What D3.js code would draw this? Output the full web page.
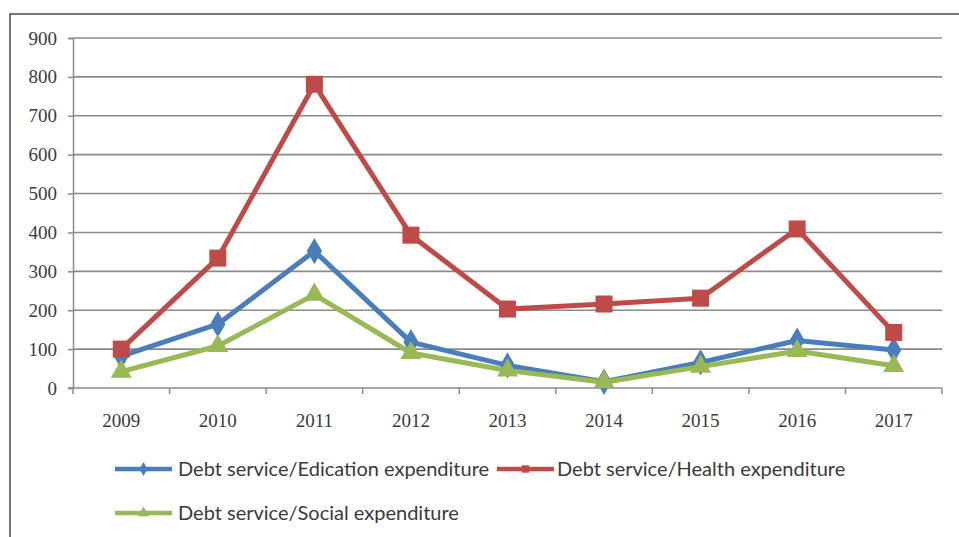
<!DOCTYPE html>
<html>
<head>
<meta charset="utf-8">
<script src="https://cdn.jsdelivr.net/npm/d3@7"></script>
<style>
  html, body { margin: 0; padding: 0; background: #fff; }
  svg { display: block; }
</style>
</head>
<body>
<svg id="chart" width="959" height="537"></svg>
<script>
// Years on the category axis
const years = ["2009", "2010", "2011", "2012", "2013", "2014", "2015", "2016", "2017"];
// Ratios of debt service to each expenditure line
const educationRatio = [82, 164, 352, 118, 58, 16, 66, 122, 98];
const healthRatio = [100, 334, 781, 393, 203, 216, 231, 409, 143];
const socialRatio = [42, 108, 240, 90, 45, 15, 55, 95, 57];
const yTicks = [0, 100, 200, 300, 400, 500, 600, 700, 800, 900];
const seriesNames = [
  "Debt service/Edication expenditure",
  "Debt service/Health expenditure",
  "Debt service/Social expenditure"
];

const series = [
  { name: seriesNames[0], values: educationRatio, color: "#4a7ebb", marker: d3.symbolDiamond, size: 200 },
  { name: seriesNames[1], values: healthRatio, color: "#be4b48", marker: d3.symbolSquare, size: 290 },
  { name: seriesNames[2], values: socialRatio, color: "#98b954", marker: d3.symbolTriangle, size: 190 }
];

const svg = d3.select("#chart");

// Outer frame of the figure
svg.append("rect")
  .attr("x", 10).attr("y", 14)
  .attr("width", 960).attr("height", 540)
  .attr("fill", "none").attr("stroke", "#4a4a4a").attr("stroke-width", 1.5);

const plot = { left: 73, right: 942, top: 38, bottom: 388 };

const x = d3.scaleBand().domain(years).range([plot.left, plot.right]);
const y = d3.scaleLinear().domain([0, 900]).range([plot.bottom, plot.top]);

const axisFont = "'Liberation Serif', 'DejaVu Serif', serif";

// Value axis
const yAxis = svg.append("g")
  .attr("transform", `translate(${plot.left},0)`)
  .call(d3.axisLeft(y).tickValues(yTicks).tickSize(5).tickPadding(11));
yAxis.select(".domain").attr("stroke", "#8a8a8a").attr("stroke-width", 1.5);
yAxis.selectAll(".tick line").attr("stroke", "#8a8a8a").attr("stroke-width", 1.5);
yAxis.selectAll(".tick text")
  .attr("font-family", axisFont)
  .attr("font-size", 19).attr("fill", "#3a3a3a");

// Horizontal gridlines
svg.append("g").selectAll("line")
  .data(yTicks.filter(t => t > 0))
  .join("line")
  .attr("x1", plot.left).attr("x2", plot.right)
  .attr("y1", d => y(d)).attr("y2", d => y(d))
  .attr("stroke", "#8a8a8a").attr("stroke-width", 1.6);

// Category axis: ticks between the years
const xAxisG = svg.append("g").attr("transform", `translate(0,${plot.bottom})`);
xAxisG.append("line")
  .attr("x1", plot.left - 5).attr("x2", plot.right)
  .attr("stroke", "#8a8a8a").attr("stroke-width", 1.6);
const bounds = years.map(d => x(d)).concat([x(years[years.length - 1]) + x.bandwidth()]);
xAxisG.selectAll("line.tk")
  .data(bounds)
  .join("line").attr("class", "tk")
  .attr("x1", d => d).attr("x2", d => d)
  .attr("y1", 0).attr("y2", 6)
  .attr("stroke", "#8a8a8a").attr("stroke-width", 1.5);
xAxisG.selectAll("text")
  .data(years)
  .join("text")
  .attr("x", d => x(d) + x.bandwidth() / 2)
  .attr("y", 39)
  .attr("text-anchor", "middle")
  .attr("font-family", axisFont)
  .attr("font-size", 19).attr("fill", "#3a3a3a")
  .text(d => d);

const cx = (d, i) => x(years[i]) + x.bandwidth() / 2;
const line = d3.line().x((d, i) => cx(d, i)).y(d => y(d));

// Lines and markers for each series
series.forEach(s => {
  const g = svg.append("g");
  g.append("path")
    .datum(s.values)
    .attr("d", line)
    .attr("fill", "none")
    .attr("stroke", s.color)
    .attr("stroke-width", 5)
    .attr("stroke-linejoin", "round");
  g.selectAll("path.mk")
    .data(s.values)
    .join("path").attr("class", "mk")
    .attr("transform", (d, i) => `translate(${cx(d, i)},${y(d)})`)
    .attr("d", d3.symbol().type(s.marker).size(s.size))
    .attr("fill", s.color);
});

// Legend
const legendItems = [
  { s: series[0], lx: 115, ly: 469, tx: 178 },
  { s: series[1], lx: 497, ly: 469, tx: 557 },
  { s: series[2], lx: 115, ly: 513, tx: 178 }
];
const legend = svg.append("g");
legendItems.forEach(it => {
  legend.append("line")
    .attr("x1", it.lx).attr("x2", it.lx + 57)
    .attr("y1", it.ly).attr("y2", it.ly)
    .attr("stroke", it.s.color).attr("stroke-width", 4.5);
  legend.append("path")
    .attr("transform", `translate(${it.lx + 28.5},${it.ly})`)
    .attr("d", d3.symbol().type(it.s.marker).size(55))
    .attr("fill", it.s.color);
  legend.append("text")
    .attr("x", it.tx).attr("y", it.ly)
    .attr("dy", "0.35em")
    .attr("font-family", "Lato, 'Open Sans', sans-serif")
    .attr("font-size", 20).attr("fill", "#3a3a3a")
    .text(it.s.name);
});
</script>
</body>
</html>
